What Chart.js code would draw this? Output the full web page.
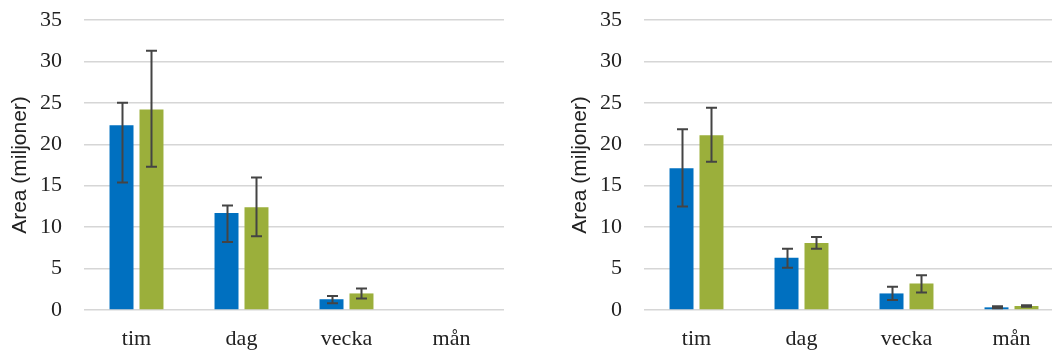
<!DOCTYPE html>
<html><head><meta charset="utf-8">
<script src="https://cdn.jsdelivr.net/npm/chart.js@4"></script>
<style>
html,body{margin:0;padding:0;background:#fff;overflow:hidden;width:1052px;height:351px;position:relative;}
.p{position:absolute;top:0;width:520px;height:351px;}
canvas{display:block;}
</style></head><body>
<div class="p" style="left:0"><canvas id="c1" width="520" height="351"></canvas></div>
<div class="p" style="left:560px"><canvas id="c2" width="520" height="351"></canvas></div>
<script>
const categories = ['tim', 'dag', 'vecka', 'mån'];
const yMin = 0, yMax = 35, yStep = 5;
const yTitle = 'Area (miljoner)';

const leftBlue      = [22.3, 11.7, 1.3, 0];
const leftBlueLow   = [15.4, 8.2, 0.8, null];
const leftBlueHigh  = [25.0, 12.6, 1.7, null];
const leftGreen     = [24.2, 12.4, 2.0, 0];
const leftGreenLow  = [17.3, 8.9, 1.4, null];
const leftGreenHigh = [31.3, 16.0, 2.6, null];

const rightBlue      = [17.1, 6.3, 2.0, 0.32];
const rightBlueLow   = [12.5, 5.1, 1.2, 0.2];
const rightBlueHigh  = [21.8, 7.4, 2.8, 0.45];
const rightGreen     = [21.1, 8.1, 3.2, 0.48];
const rightGreenLow  = [17.9, 7.4, 2.1, 0.38];
const rightGreenHigh = [24.4, 8.8, 4.2, 0.58];

const BLUE = '#0070C0', GREEN = '#9BAF3B';

const errorBars = {
  id: 'errorBars',
  afterDatasetsDraw(chart) {
    const ctx = chart.ctx, y = chart.scales.y;
    chart.data.datasets.forEach((ds, di) => {
      const meta = chart.getDatasetMeta(di);
      meta.data.forEach((bar, i) => {
        const lo = ds.errLow[i], hi = ds.errHigh[i];
        if (lo == null || hi == null) return;
        const x = Math.round(bar.x) + 0.5;
        const yl = y.getPixelForValue(lo), yh = y.getPixelForValue(hi);
        ctx.save();
        ctx.strokeStyle = '#444';
        ctx.lineWidth = 2;
        ctx.beginPath();
        ctx.moveTo(x, yl); ctx.lineTo(x, yh);
        ctx.moveTo(x - 5.5, yl); ctx.lineTo(x + 5.5, yl);
        ctx.moveTo(x - 5.5, yh); ctx.lineTo(x + 5.5, yh);
        ctx.stroke();
        ctx.restore();
      });
    });
  }
};

function make(id, b, bl, bh, g, gl, gh) {
  return new Chart(document.getElementById(id), {
    type: 'bar',
    data: {
      labels: categories,
      datasets: [
        {data: b, errLow: bl, errHigh: bh, backgroundColor: BLUE, categoryPercentage: 0.571, barPercentage: 0.8},
        {data: g, errLow: gl, errHigh: gh, backgroundColor: GREEN, categoryPercentage: 0.571, barPercentage: 0.8}
      ]
    },
    options: {
      responsive: false,
      animation: false,
      layout: {padding: {top: 20, right: 16, left: 0, bottom: 0}},
      plugins: {legend: {display: false}, tooltip: {enabled: false}},
      scales: {
        x: {
          grid: {display: false, drawTicks: false},
          border: {display: false},
          ticks: {padding: 16, color: '#222', font: {family: '"Liberation Serif", serif', size: 22}},
          afterFit(s) { s.height = 41; }
        },
        y: {
          min: yMin, max: yMax,
          grid: {color: '#d6d6d6', lineWidth: 1.5, drawTicks: false},
          border: {display: false},
          ticks: {stepSize: yStep, padding: 22, color: '#222', font: {family: '"Liberation Serif", serif', size: 22}},
          title: {display: true, text: yTitle, color: '#222', padding: {top: 8, bottom: 0}, font: {family: '"Liberation Sans", Arial, sans-serif', size: 21}},
          afterFit(s) { s.width = 84; s.paddingTop = 0; s.paddingBottom = 0; }
        }
      }
    },
    plugins: [errorBars]
  });
}

make('c1', leftBlue, leftBlueLow, leftBlueHigh, leftGreen, leftGreenLow, leftGreenHigh);
make('c2', rightBlue, rightBlueLow, rightBlueHigh, rightGreen, rightGreenLow, rightGreenHigh);
</script>
</body></html>
